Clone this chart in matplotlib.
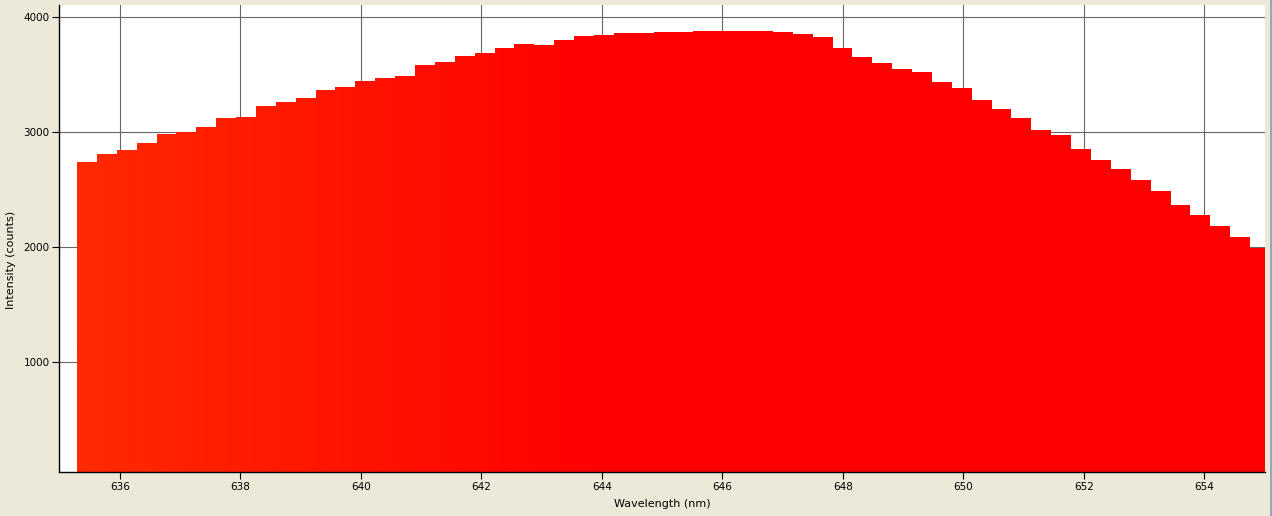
import numpy as np
import matplotlib
matplotlib.use("Agg")
import matplotlib.pyplot as plt
from matplotlib.lines import Line2D

# bin edges (nm) and counts
bin_edges = [635.29, 635.62, 635.95, 636.28, 636.61, 636.94, 637.27, 637.60, 637.93, 638.26,
             638.59, 638.92, 639.25, 639.58, 639.91, 640.24, 640.57, 640.90, 641.23, 641.56,
             641.89, 642.22, 642.55, 642.88, 643.21, 643.54, 643.87, 644.20, 644.53, 644.86,
             645.19, 645.52, 645.85, 646.18, 646.51, 646.84, 647.17, 647.50, 647.83, 648.16,
             648.49, 648.82, 649.15, 649.48, 649.81, 650.14, 650.47, 650.80, 651.13, 651.46,
             651.79, 652.12, 652.45, 652.78, 653.11, 653.44, 653.77, 654.10, 654.43, 654.76,
             655.09]
counts = [2742, 2811, 2846, 2907, 2985, 3003, 3046, 3124, 3133, 3229,
          3263, 3298, 3368, 3394, 3446, 3472, 3490, 3585, 3611, 3663,
          3689, 3733, 3768, 3759, 3803, 3837, 3846, 3863, 3863, 3872,
          3872, 3881, 3881, 3881, 3881, 3872, 3855, 3829, 3733, 3655,
          3603, 3550, 3524, 3437, 3385, 3281, 3203, 3124, 3020, 2976,
          2854, 2759, 2676, 2581, 2485, 2371, 2276, 2181, 2085, 1989]

x_ticks = [636, 638, 640, 642, 644, 646, 648, 650, 652, 654]
y_ticks = [1000, 2000, 3000, 4000]

plt.rcParams['font.family'] = ['DejaVu Sans']
bg = '#ECE9D8'

fig = plt.figure(figsize=(12.72, 5.16), dpi=100, facecolor=bg)
ax = fig.add_axes([59.5 / 1272, 44 / 516, 1205 / 1272, 467 / 516])
ax.set_facecolor('white')

ymin, ymax = 44, 4107

# step outline, filled with a red-orange gradient
patch = ax.stairs(counts, bin_edges, baseline=0, fill=True, color='none', zorder=3)
xs = np.linspace(bin_edges[0], bin_edges[-1], 400)
g = np.clip((643.97 - xs) / (643.97 - bin_edges[0]), 0, 1) * 42 / 255
grad = np.zeros((1, len(xs), 3))
grad[..., 0] = 1.0
grad[..., 1] = g
img = ax.imshow(grad, extent=[bin_edges[0], bin_edges[-1], 0, 4000], aspect='auto',
                interpolation='bilinear', zorder=3)
img.set_clip_path(patch)
ax.set_xlim(635, 655)
ax.set_ylim(ymin, ymax)

ax.set_xticks(x_ticks)
ax.set_yticks(y_ticks)
ax.grid(True, color='#666666', linewidth=0.8, zorder=1)
ax.set_axisbelow(True)
ax.tick_params(axis='both', direction='out', length=5, width=0.8, color='black',
               labelsize=7.5, pad=2)
for s in ['top', 'right']:
    ax.spines[s].set_visible(False)
for s in ['left', 'bottom']:
    ax.spines[s].set_color('black')
    ax.spines[s].set_linewidth(1.0)
    ax.spines[s].set_zorder(5)

fig.text(662 / 1272, 1 - 504 / 516, 'Wavelength (nm)', ha='center', va='center', fontsize=8)
fig.text(11 / 1272, 1 - 260 / 516, 'Intensity (counts)', ha='center', va='center',
         rotation=90, fontsize=8)

# window border on the far right
fig.add_artist(Line2D([1270.5 / 1272, 1270.5 / 1272], [0, 1], transform=fig.transFigure,
                      color='#7F9DB9', linewidth=1.2))

fig.savefig('out.png', dpi=100, facecolor=bg)
